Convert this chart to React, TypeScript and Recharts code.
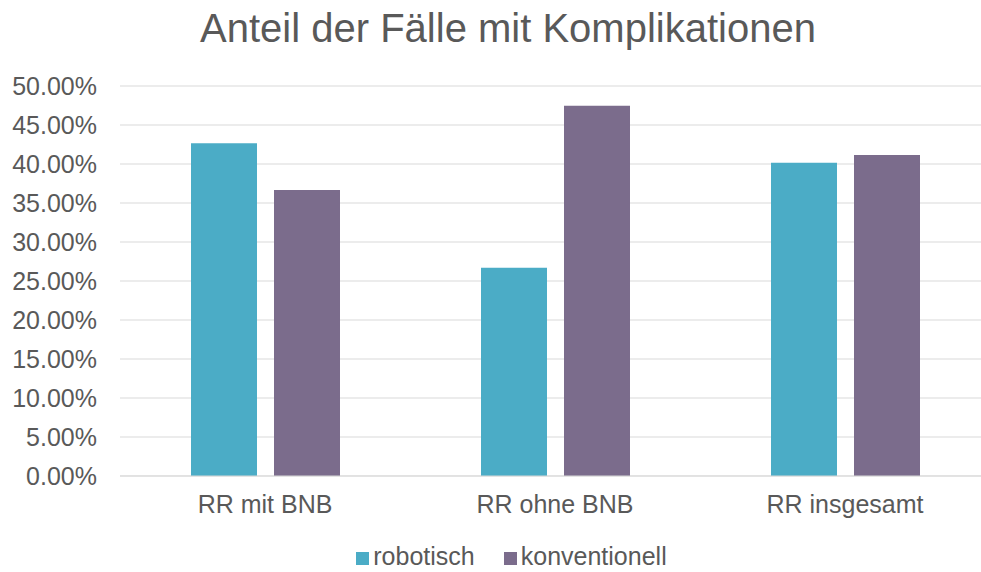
import { BarChart, Bar, XAxis, YAxis, CartesianGrid, Legend } from 'recharts'

const categories = ['RR mit BNB', 'RR ohne BNB', 'RR insgesamt']
const robotisch = [42.65, 26.7, 40.17]
const konventionell = [36.67, 47.47, 41.15]
const yTicks = [0, 5, 10, 15, 20, 25, 30, 35, 40, 45, 50]

const seriesNames = ['robotisch', 'konventionell']
const colors = ['#4BACC6', '#7B6C8C']

const data = categories.map((name, i) => ({
  name,
  robotisch: robotisch[i],
  konventionell: konventionell[i],
}))

const FONT = "Arial, 'Liberation Sans', sans-serif"
const TEXT = '#595959'

const LegendContent = () => (
  <div style={{ display: 'flex', justifyContent: 'center', fontFamily: FONT, fontSize: 25, color: TEXT, lineHeight: '30px', height: 30, paddingLeft: 7 }}>
    {seriesNames.map((s, i) => (
      <span key={s} style={{ display: 'inline-flex', alignItems: 'baseline', marginRight: i === 0 ? 29 : 0 }}>
        <span style={{ display: 'inline-block', width: 13, height: 13, background: colors[i], marginRight: 4 }} />
        {s}
      </span>
    ))}
  </div>
)

export default function App() {
  return (
    <div style={{ position: 'fixed', top: 0, left: 0, width: 981, height: 572, overflow: 'hidden', background: '#fff' }}>
      <div style={{
        position: 'absolute', top: 0, left: 0, width: 1016, textAlign: 'center',
        fontFamily: FONT, fontSize: 40, lineHeight: '56px', color: TEXT,
      }}>
        Anteil der Fälle mit Komplikationen
      </div>
      <BarChart
        width={1016}
        height={572}
        data={data}
        margin={{ top: 86, right: 26, bottom: 36, left: 0 }}
        barSize={66}
        barGap={17}
      >
        <CartesianGrid vertical={false} stroke="#d9d9d9" />
        <XAxis
          dataKey="name"
          height={30}
          axisLine={{ stroke: '#d9d9d9' }}
          tickLine={false}
          tickSize={0}
          tickMargin={19}
          tick={{ fill: TEXT, fontSize: 25, fontFamily: FONT }}
        />
        <YAxis
          width={120}
          domain={[0, 50]}
          ticks={yTicks}
          interval={0}
          axisLine={false}
          tickLine={false}
          tickSize={0}
          tickMargin={23}
          tickFormatter={(v: number) => v.toFixed(2) + '%'}
          tick={{ fill: TEXT, fontSize: 25, fontFamily: FONT }}
        />
        <Legend
          verticalAlign="bottom"
          align="center"
          content={<LegendContent />}
          wrapperStyle={{ top: 541, bottom: 'auto', left: 0, width: 1016, height: 30 }}
        />
        <Bar dataKey="robotisch" fill={colors[0]} isAnimationActive={false} />
        <Bar dataKey="konventionell" fill={colors[1]} isAnimationActive={false} />
      </BarChart>
    </div>
  )
}
